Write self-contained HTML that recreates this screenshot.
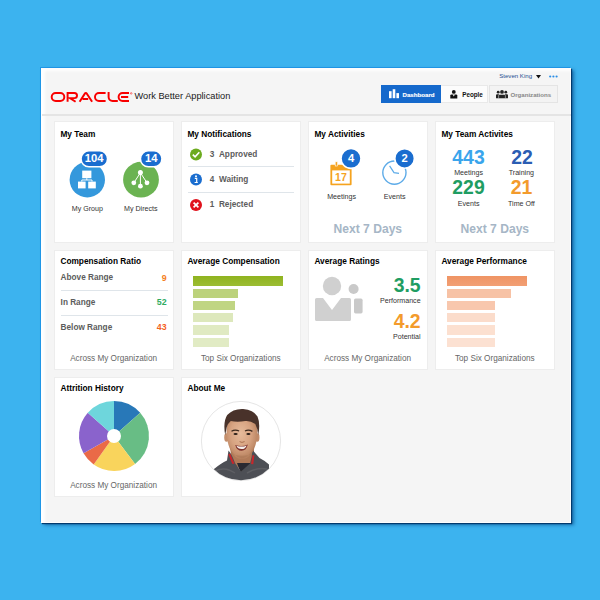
<!DOCTYPE html>
<html><head><meta charset="utf-8">
<style>
*{box-sizing:border-box;margin:0;padding:0}
html,body{width:600px;height:600px;overflow:hidden}
body{background:#3cb3ef;font-family:"Liberation Sans",sans-serif;position:relative;line-height:1}
#win{position:absolute;left:41px;top:68px;width:530px;height:455px;background:#f5f5f5;border:1px solid #fdfdfd;border-left-color:#fff;box-shadow:inset 3px 2px 3px rgba(255,255,255,.95),-1px -1px 0 rgba(10,130,225,.55),1px 1px 1px rgba(0,55,105,.95),3px 2px 3.5px rgba(0,60,120,.6)}
#sep{position:absolute;left:42px;top:114px;width:529px;height:2px;background:#e4e4e4}
.card{position:absolute;width:120.5px;background:#fff;border:1px solid #ededed}
.r1{top:121px;height:122px}.r2{top:250px;height:120px}.r3{top:377px;height:120px}
.c1{left:53.6px}.c2{left:180.6px}.c3{left:307.6px}.c4{left:434.6px}
.a{position:absolute;white-space:nowrap}
.t{position:absolute;white-space:nowrap;font-size:8.3px;font-weight:bold;color:#000}
.c{position:absolute;white-space:nowrap;transform:translateX(-50%)}
.r{position:absolute;white-space:nowrap;transform:translateX(-100%)}
.foot{font-size:8.2px;color:#666}
.lab{font-size:7.1px;color:#333}
.n7{font-size:12.1px;font-weight:bold;color:#a6b6c6}
.big{font-size:19.4px;font-weight:bold}
.nt{font-size:8.22px;font-weight:bold;color:#5c5c5c}
.hl{position:absolute;height:1px;background:#dfe5ea}
.bar{position:absolute;height:9.3px}
svg{position:absolute;overflow:visible}
</style></head><body>
<div id="win"></div>
<div id="sep"></div>

<!-- HEADER -->
<svg style="left:0;top:0" width="600" height="120" viewBox="0 0 600 120">
 <g fill="none" stroke="#f80000" stroke-width="1.95" stroke-linejoin="round">
  <rect x="51.7" y="92.9" width="12.6" height="8" rx="4" ry="4"/>
  <path d="M67.6 101.8V92.9h6.8a2.6 2.6 0 0 1 0 5.2h-4.4l5.6 3.7" stroke-linejoin="miter"/>
  <path d="M79.6 101.8l5.4 -8.4a1 1 0 0 1 1.7 0l5.4 8.4M82.6 98.9h5.6"/>
  <path d="M105.6 92.9h-6.6a4 4 0 0 0 0 8h6.6"/>
  <path d="M108.6 92v4.9a4 4 0 0 0 4 4h5.2"/>
  <path d="M129 92.9h-6.4a4 4 0 0 0 0 8h6.4M121 96.9h7.2"/>
 </g>
 <circle cx="131.2" cy="93.4" r=".8" fill="none" stroke="#f80000" stroke-width=".5"/>
</svg>
<div class="a" style="left:134.5px;top:92.4px;font-size:9.24px;color:#1a1a1a">Work Better Application</div>
<div class="a" style="left:499.2px;top:73px;font-size:6.1px;color:#1f4f92">Steven King</div>
<svg style="left:535.6px;top:74.6px" width="5" height="4"><path d="M0 0h5L2.5 3.4z" fill="#111"/></svg>
<svg style="left:548.6px;top:74.6px" width="9" height="3"><circle cx="1.2" cy="1.5" r="1.1" fill="#2b8ee6"/><circle cx="4.4" cy="1.5" r="1.1" fill="#2b8ee6"/><circle cx="7.6" cy="1.5" r="1.1" fill="#2b8ee6"/></svg>

<div class="a" style="left:381.3px;top:85.2px;width:59.6px;height:17.6px;background:#1569cc"></div>
<div class="a" style="left:440.9px;top:85.2px;width:47.6px;height:17.6px;background:#fcfcfc;border:1px solid #e9e9e9;border-left:0"></div>
<div class="a" style="left:488.5px;top:85.2px;width:69.2px;height:17.6px;background:#f3f3f3;border:1px solid #e4e4e4"></div>
<svg style="left:388.8px;top:88.6px" width="11" height="10"><rect x="0" y="2.2" width="2.6" height="7" fill="#fff"/><rect x="3.7" y="0.2" width="2.6" height="9" fill="#fff"/><rect x="7.4" y="4.1" width="2.6" height="5.1" fill="#fff"/></svg>
<div class="a" style="left:402.5px;top:91.5px;font-size:6.15px;font-weight:bold;color:#fff;-webkit-text-stroke:.15px #fff">Dashboard</div>
<svg style="left:450.2px;top:89.6px" width="8" height="9"><circle cx="3.8" cy="1.9" r="1.9" fill="#111"/><path d="M0.3 8.6V5.6q0-1.2 1.2-1.2h4.6q1.2 0 1.2 1.2v3z" fill="#111"/><path d="M2.7 4.4l1.1 2 1.1-2z" fill="#fbfbfb"/></svg>
<div class="a" style="left:462.2px;top:91.5px;font-size:6.3px;font-weight:bold;color:#111">People</div>
<svg style="left:495.6px;top:90px" width="12" height="9"><g fill="#222"><circle cx="2.2" cy="2.2" r="1.4"/><circle cx="9.8" cy="2.2" r="1.4"/><circle cx="6" cy="1.9" r="1.9"/><path d="M0 8.3V5.2q0-1 1-1h2v4.1zM12 8.3V5.2q0-1-1-1h-2v4.1z"/><path d="M2.6 8.6V5.6q0-1.2 1.2-1.2h4.4q1.2 0 1.2 1.2v3z" stroke="#f3f3f3" stroke-width=".5"/></g></svg>
<div class="a" style="left:510.4px;top:91.5px;font-size:6.12px;font-weight:bold;color:#888">Organizations</div>

<!-- CARDS -->
<div class="card r1 c1"></div><div class="card r1 c2"></div><div class="card r1 c3"></div><div class="card r1 c4"></div>
<div class="card r2 c1"></div><div class="card r2 c2"></div><div class="card r2 c3"></div><div class="card r2 c4"></div>
<div class="card r3 c1"></div><div class="card r3 c2"></div>

<!-- titles -->
<div class="t" style="left:60.4px;top:130.2px">My Team</div>
<div class="t" style="left:187.4px;top:130.2px">My Notifications</div>
<div class="t" style="left:314.4px;top:130.2px">My Activities</div>
<div class="t" style="left:441.4px;top:130.2px">My Team Activites</div>
<div class="t" style="left:60.4px;top:257px">Compensation Ratio</div>
<div class="t" style="left:187.4px;top:257px">Average Compensation</div>
<div class="t" style="left:314.4px;top:257px">Average Ratings</div>
<div class="t" style="left:441.4px;top:257px">Average Performance</div>
<div class="t" style="left:60.4px;top:384px">Attrition History</div>
<div class="t" style="left:187.4px;top:384px">About Me</div>

<!-- Card 1: My Team -->
<svg style="left:0;top:0" width="600" height="600" viewBox="0 0 600 600"><g transform="translate(0,.4)">
 <circle cx="87.3" cy="179.3" r="17.7" fill="#3498dc"/>
 <g fill="#fff"><rect x="82.2" y="170.2" width="9.2" height="7.6"/><rect x="78" y="181.2" width="7.6" height="6.8"/><rect x="88.2" y="181.2" width="7.6" height="6.8"/></g>
 <path d="M86.8 177.8v1.8M81.8 181.2v-1.6h10.2v1.6" stroke="#fff" stroke-width="1" fill="none"/>
 <rect x="81" y="150.4" width="26.6" height="16" rx="8" fill="#1a6dcf" stroke="#fff" stroke-width="1.6"/>
 <circle cx="141" cy="179.3" r="17.9" fill="#6bb352"/>
 <g stroke="#fff" stroke-width="1" fill="none"><path d="M140.4 172.4L133.8 182.4M140.4 172.4V185.6M140.4 172.4L147 182.4"/></g>
 <g fill="#fff"><circle cx="140.4" cy="172.2" r="2.5"/><circle cx="133.8" cy="182.4" r="2.4"/><circle cx="140.4" cy="185.8" r="2.4"/><circle cx="147" cy="182.4" r="2.4"/></g>
 <rect x="140.4" y="150.4" width="21.6" height="16" rx="8" fill="#1a6dcf" stroke="#fff" stroke-width="1.6"/>
</g></svg>
<div class="c" style="left:94.1px;top:153.3px;font-size:11.2px;font-weight:bold;color:#fff">104</div>
<div class="c" style="left:151.2px;top:153.3px;font-size:11.2px;font-weight:bold;color:#fff">14</div>
<div class="c lab" style="left:87.4px;top:205.5px">My Group</div>
<div class="c lab" style="left:140.8px;top:205.5px">My Directs</div>

<!-- Card 2: Notifications -->
<svg style="left:0;top:0" width="600" height="600" viewBox="0 0 600 600">
 <circle cx="196" cy="154.4" r="6" fill="#6cab1e"/><path d="M192.8 154.6l2.3 2.3 4.2-4.6" stroke="#fff" stroke-width="1.6" fill="none"/>
 <circle cx="196" cy="179.4" r="6" fill="#1a6dcf"/><circle cx="196" cy="176.3" r="1" fill="#fff"/><path d="M194.8 178.3h1.9v4M194.6 182.5h3.2" stroke="#fff" stroke-width="1.2" fill="none"/>
 <circle cx="196" cy="205" r="6" fill="#e0121c"/><path d="M193.6 202.6l4.8 4.8M198.4 202.6l-4.8 4.8" stroke="#fff" stroke-width="1.7" fill="none"/>
</svg>
<div class="hl" style="left:188px;top:166.2px;width:106px"></div>
<div class="hl" style="left:188px;top:192px;width:106px"></div>
<div class="a nt" style="left:209.8px;top:150.7px">3&nbsp;&nbsp;Approved</div>
<div class="a nt" style="left:209.8px;top:175.7px">4&nbsp;&nbsp;Waiting</div>
<div class="a nt" style="left:209.8px;top:201.2px">1&nbsp;&nbsp;Rejected</div>

<!-- Card 3: Activities -->
<svg style="left:0;top:0" width="600" height="600" viewBox="0 0 600 600">
 <path d="M331.4 164.8h19.2q1 0 1 1v18.4q0 1-1 1h-19.2q-1 0-1-1v-18.4q0-1 1-1z" fill="#f5a31f"/>
 <rect x="332.2" y="170.4" width="17.6" height="13.2" fill="#fff"/>
 <rect x="335.2" y="161.8" width="2.4" height="4.2" fill="#f5a31f" stroke="#fff" stroke-width=".6"/>
 <circle cx="394.4" cy="172.6" r="11.6" fill="#fff" stroke="#5dabe8" stroke-width="1.4"/>
 <path d="M389.6 165.8L394 172.6L399 173.4" stroke="#5dabe8" stroke-width="1.2" fill="none"/>
 <circle cx="351" cy="158.4" r="10" fill="#1a6dcf" stroke="#fff" stroke-width="1.6"/>
 <circle cx="404.6" cy="158.4" r="9.8" fill="#1a6dcf" stroke="#fff" stroke-width="1.6"/>
</svg>
<div class="c" style="left:341px;top:172.2px;font-size:10.6px;font-weight:bold;color:#f5a31f">17</div>
<div class="c" style="left:351px;top:153.1px;font-size:11.2px;font-weight:bold;color:#fff">4</div>
<div class="c" style="left:404.6px;top:153.1px;font-size:11.2px;font-weight:bold;color:#fff">2</div>
<div class="c lab" style="left:341.6px;top:193.9px">Meetings</div>
<div class="c lab" style="left:394.6px;top:193.9px">Events</div>
<div class="c n7" style="left:367.8px;top:222.6px">Next 7 Days</div>

<!-- Card 4: Team Activities -->
<div class="c big" style="left:468.5px;top:147.5px;color:#3aa5ec">443</div>
<div class="c big" style="left:522px;top:147.5px;color:#2b5db3">22</div>
<div class="c big" style="left:468.5px;top:178.1px;color:#1f9d62">229</div>
<div class="c big" style="left:521.6px;top:178.1px;color:#f39b2c">21</div>
<div class="c lab" style="left:468.6px;top:169.5px">Meetings</div>
<div class="c lab" style="left:521.4px;top:169.5px">Training</div>
<div class="c lab" style="left:468.6px;top:200.9px">Events</div>
<div class="c lab" style="left:521.4px;top:200.9px">Time Off</div>
<div class="c n7" style="left:494.8px;top:222.6px">Next 7 Days</div>

<!-- Card 5: Compensation Ratio -->
<div class="a nt" style="left:60.6px;top:274.4px">Above Range</div>
<div class="a nt" style="left:60.6px;top:298.8px">In Range</div>
<div class="a nt" style="left:60.6px;top:323.8px">Below Range</div>
<div class="r" style="left:166.6px;top:273.8px;font-size:8.8px;font-weight:bold;color:#f47d20">9</div>
<div class="r" style="left:166.6px;top:298.2px;font-size:8.8px;font-weight:bold;color:#2fab5f">52</div>
<div class="r" style="left:166.6px;top:323.2px;font-size:8.8px;font-weight:bold;color:#f4611e">43</div>
<div class="hl" style="left:61px;top:290.2px;width:106.6px"></div>
<div class="hl" style="left:61px;top:315px;width:106.6px"></div>
<div class="c foot" style="left:113.6px;top:354.8px">Across My Organization</div>

<!-- Card 6: Avg Compensation -->
<div class="bar" style="left:193px;top:276.4px;width:90px;background:linear-gradient(#8fb31f,#9cbd33)"></div>
<div class="bar" style="left:193px;top:288.6px;width:45.4px;background:#bcd27b"></div>
<div class="bar" style="left:193px;top:300.9px;width:42px;background:#c0d583"></div>
<div class="bar" style="left:193px;top:313.2px;width:40px;background:#dde8bc"></div>
<div class="bar" style="left:193px;top:325.4px;width:36px;background:#e0eac2"></div>
<div class="bar" style="left:193px;top:337.6px;width:36px;background:#e1ebc4"></div>
<div class="c foot" style="left:240.8px;top:354.8px">Top Six Organizations</div>

<!-- Card 7: Avg Ratings -->
<svg style="left:0;top:0" width="600" height="600" viewBox="0 0 600 600">
 <circle cx="332" cy="286" r="9.2" fill="#d0d0d0"/>
 <path d="M315 299.6q0-1.6 1.6-1.6h6.4l9 12 9-12h8.400q1.600 0 1.600 1.600v19.800q0 1.600-1.600 1.600h-32.800q-1.600 0-1.600-1.600z" fill="#d0d0d0"/>
 <circle cx="353.6" cy="289" r="5" fill="#c9c9c9"/>
 <path d="M354 300.200q0-1.600 1.600-1.600h5.400q1.600 0 1.600 1.600v11.600q0 1.600-1.600 1.600h-5.400q-1.600 0-1.600-1.600z" fill="#c9c9c9"/>
</svg>
<div class="r big" style="left:420.6px;top:275.9px;color:#1f9d62">3.5</div>
<div class="r big" style="left:420.6px;top:312.3px;color:#f39b2c">4.2</div>
<div class="r lab" style="left:420.6px;top:298.1px">Performance</div>
<div class="r lab" style="left:420.6px;top:334.1px">Potential</div>
<div class="c foot" style="left:367.6px;top:354.8px">Across My Organization</div>

<!-- Card 8: Avg Performance -->
<div class="bar" style="left:447px;top:276.4px;width:79.6px;background:linear-gradient(#ef9464,#f29f74)"></div>
<div class="bar" style="left:447px;top:288.6px;width:63.6px;background:#f7c2a5"></div>
<div class="bar" style="left:447px;top:300.9px;width:48px;background:#f8c7ad"></div>
<div class="bar" style="left:447px;top:313.2px;width:48px;background:#fbdccb"></div>
<div class="bar" style="left:447px;top:325.4px;width:48px;background:#fce0d0"></div>
<div class="bar" style="left:447px;top:337.6px;width:48px;background:#fce1d2"></div>
<div class="c foot" style="left:494.8px;top:354.8px">Top Six Organizations</div>

<!-- Card 9: Attrition pie -->
<svg style="left:0;top:0" width="600" height="600" viewBox="0 0 600 600">
<path d="M114 436L114.00 401.00A35 35 0 0 1 140.21 412.81z" fill="#2878b8"/>
<path d="M114 436L140.21 412.81A35 35 0 0 1 135.06 463.95z" fill="#68bd85"/>
<path d="M114 436L135.06 463.95A35 35 0 0 1 93.68 464.49z" fill="#f9d45c"/>
<path d="M114 436L93.68 464.49A35 35 0 0 1 83.54 453.23z" fill="#ea6a47"/>
<path d="M114 436L83.54 453.23A35 35 0 0 1 87.79 412.81z" fill="#8a63cc"/>
<path d="M114 436L87.79 412.81A35 35 0 0 1 114.00 401.00z" fill="#6ed6dc"/>
<circle cx="114" cy="436" r="7" fill="#fff"/>
</svg>
<div class="c foot" style="left:113.6px;top:481.8px">Across My Organization</div>

<!-- Card 10: About me -->
<svg style="left:201px;top:401px" width="80" height="80" viewBox="0 0 80 80">
<defs><clipPath id="cp"><circle cx="40" cy="40" r="39.3"/></clipPath>
<radialGradient id="fg" cx=".46" cy=".42" r=".6"><stop offset="0" stop-color="#e6bb9b"/><stop offset=".55" stop-color="#d7a381"/><stop offset="1" stop-color="#b57f5c"/></radialGradient></defs>
<circle cx="40" cy="40" r="39.6" fill="#fff" stroke="#dedede" stroke-width=".8"/>
<filter id="bl" x="-10%" y="-10%" width="120%" height="120%"><feGaussianBlur stdDeviation=".35"/></filter><g clip-path="url(#cp)"><g filter="url(#bl)">
 <path d="M29 46h24v18l-11 6-11-8z" fill="#b07a58"/>
 <path d="M36 62h15l-2 14-7 3z" fill="#2b2b30"/>
 <path d="M13 68q7-6 13-8.600l1.500-10q3.500 4 6.500 12.600l6 8.500 9-8q2-7 2.500-13.500l7 8q6 3 9.500 6.500v20h-55z" fill="#4e4f54"/>
 <path d="M27.300 53.500l1.800-1 4.400 10-2.200.6z" fill="#c9262c"/><path d="M51.600 54l1.800.6-1.200 8.600-2.200-.2z" fill="#c9262c"/>
 <path d="M14 70q10-5 20 2M46 72q10-6 20-4" stroke="#5d5e64" stroke-width="1.500" fill="none"/>
 <ellipse cx="25.400" cy="36.500" rx="2.200" ry="4.200" fill="#c48f6c"/><ellipse cx="56.300" cy="36.500" rx="2.200" ry="4.200" fill="#c08a68"/>
 <path d="M25.500 30q0-16 15.500-16t15.500 16q0 10-3.500 18-4.500 10-12 10t-12-10q-3.500-8-3.500-18z" fill="url(#fg)"/>
 <path d="M28 44q3 11 13 13.600 9-2 12.500-13.600-1 8-5 10-7 1.500-15 0-4-3-5.500-10z" fill="#a87453" opacity=".55"/>
 <path d="M24.200 34q-2.400-13 2-20 6-6.500 16-6 10 .5 14.300 7.500 3 7 .8 18.500-.8-7-3-11-5-3.500-10-3-8 1.500-14.500 0-3 2.500-4 6-.8 4-1.600 8z" fill="#49332a"/>
 <path d="M30.500 30.200q3.600-2 7.600-.2M44 30q3.600-1.800 7.400.4" stroke="#3c291e" stroke-width="1.300" fill="none"/>
 <ellipse cx="34.600" cy="33" rx="2.100" ry="1" fill="#2c1f18"/><ellipse cx="47.400" cy="33" rx="2.100" ry="1" fill="#2c1f18"/>
 <path d="M38.600 40.600q2.200 1.600 5 0" stroke="#a9714f" stroke-width="1" fill="none"/>
 <path d="M34.200 44q6.600 2.400 12.600-.4-1.400 6.200-6.200 6.200t-6.400-5.800z" fill="#7c302b"/>
 <path d="M35.400 44.700q5.600 1.900 10.300-.3-1.300 3.600-5.100 3.600t-5.200-3.300z" fill="#f6f0ec"/>
</g></g></svg>
</body></html>
